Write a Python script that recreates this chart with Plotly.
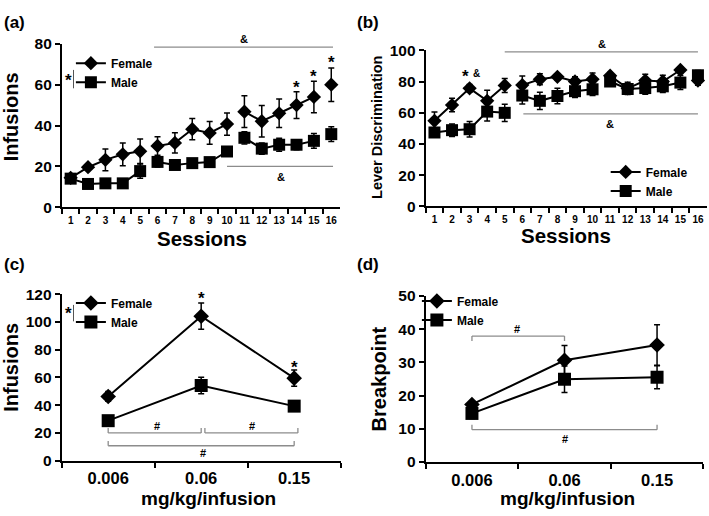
import plotly.graph_objects as go

# ---- data ----
sessions = [str(i) for i in range(1, 17)]
segments = [(0, 5), (5, 10), (10, 15), (15, 16)]   # lines break between phases

a_female = [14.4, 19.6, 23.2, 25.9, 27.4, 30.0, 31.5, 38.2, 36.4, 40.7, 46.8, 42.1, 46.0, 50.0, 54.0, 60.0]
a_female_err = [1.2, 1.5, 5.3, 5.6, 6.0, 4.5, 5.0, 5.2, 5.6, 5.5, 7.8, 7.7, 7.0, 6.6, 7.7, 8.2]
a_male = [14.0, 11.4, 11.7, 11.7, 17.7, 22.2, 20.7, 21.6, 22.1, 27.3, 34.0, 28.7, 30.6, 30.6, 32.5, 35.8]
a_male_err = [1.5, 1.2, 1.5, 1.2, 3.5, 2.5, 2.0, 1.5, 1.5, 1.5, 3.0, 2.8, 3.2, 2.5, 3.6, 3.6]

b_female = [54.8, 64.9, 75.6, 67.6, 77.5, 77.7, 81.4, 83.0, 80.0, 81.4, 83.7, 75.6, 80.6, 80.0, 87.4, 80.6]
b_female_err = [5.6, 4.3, 2.5, 6.8, 4.5, 5.8, 3.5, 2.0, 3.0, 4.0, 2.0, 4.0, 4.0, 4.0, 2.0, 3.0]
b_male = [47.3, 48.8, 49.4, 60.7, 59.9, 71.0, 67.6, 70.7, 73.8, 75.0, 80.0, 75.2, 75.8, 76.9, 79.3, 84.0]
b_male_err = [3.0, 4.0, 5.0, 6.0, 5.5, 5.5, 5.5, 5.0, 4.0, 4.0, 3.0, 3.0, 4.0, 4.0, 4.5, 3.0]

doses = ["0.006", "0.06", "0.15"]
c_female = [46.3, 104.2, 59.5]
c_female_err = [3.5, 9.5, 5.8]
c_male = [28.8, 54.2, 39.3]
c_male_err = [1.5, 6.0, 3.0]

d_female = [17.3, 30.6, 35.2]
d_female_err = [1.0, 4.5, 6.1]
d_male = [14.6, 24.9, 25.5]
d_male_err = [1.5, 4.0, 3.5]

FONT = "Liberation Sans, Arial, sans-serif"
GRAY = "#8c8c8c"

fig = go.Figure()


def add_series(xs, ys, errs, name, symbol, size, ax, leg, segs):
    for k, (s, e) in enumerate(segs):
        fig.add_trace(go.Scatter(
            x=xs[s:e], y=ys[s:e], mode="lines+markers", name=name,
            line=dict(color="black", width=2),
            marker=dict(symbol=symbol, size=size, color="black"),
            error_y=dict(type="data", array=errs[s:e], color="black", thickness=1.5, width=3),
            xaxis="x" + ax, yaxis="y" + ax, legend=leg, legendgroup=name + leg,
            showlegend=(k == 0), cliponaxis=False))


add_series(sessions, a_female, a_female_err, "Female", "diamond", 11, "", "legend", segments)
add_series(sessions, a_male, a_male_err, "Male", "square", 12, "", "legend", segments)
add_series(sessions, b_female, b_female_err, "Female", "diamond", 11, "2", "legend2", segments)
add_series(sessions, b_male, b_male_err, "Male", "square", 12, "2", "legend2", segments)
add_series(doses, c_female, c_female_err, "Female", "diamond", 12, "3", "legend3", [(0, 3)])
add_series(doses, c_male, c_male_err, "Male", "square", 13, "3", "legend3", [(0, 3)])
add_series(doses, d_female, d_female_err, "Female", "diamond", 12, "4", "legend4", [(0, 3)])
add_series(doses, d_male, d_male_err, "Male", "square", 13, "4", "legend4", [(0, 3)])

xdom = {"": [0.0874, 0.4795], "2": [0.6004, 0.9968], "3": [0.087, 0.4805], "4": [0.6004, 0.992]}
ydom = {"": [0.6027, 0.9302], "2": [0.6047, 0.9172], "3": [0.095, 0.4283], "4": [0.0924, 0.425]}
yrng = {"": [0, 80, 20], "2": [0, 100, 20], "3": [0, 120, 20], "4": [0, 50, 10]}

layout = dict(width=709, height=516, margin=dict(l=0, r=0, t=0, b=0),
              paper_bgcolor="white", plot_bgcolor="white",
              font=dict(family=FONT, color="black", weight="bold"))
for ax in ["", "2", "3", "4"]:
    small = ax in ("", "2")
    ncat = 16 if small else 3
    layout["xaxis" + ax] = dict(
        domain=xdom[ax], anchor="y" + ax, type="category", tickson="boundaries",
        range=[-0.5, ncat - 0.5], tickangle=0,
        showline=True, linecolor="black", linewidth=2, ticks="outside", ticklen=5,
        tickwidth=2, tickcolor="black", showgrid=False, zeroline=False,
        tickfont=dict(size=10 if small else 16.5, family=FONT, weight="bold"),
        ticklabelstandoff=3 if small else 2)
    lo, hi, step = yrng[ax]
    layout["yaxis" + ax] = dict(
        domain=ydom[ax], anchor="x" + ax, range=[lo, hi], tickvals=list(range(lo, hi + 1, step)),
        showline=True, linecolor="black", linewidth=2, ticks="outside", ticklen=5,
        tickwidth=2, tickcolor="black", showgrid=False, zeroline=False,
        tickfont=dict(size=15.5, family=FONT, weight="bold"))

leg_pos = {"legend": (0.100, 0.9205), "legend2": (0.8543, 0.7025),
           "legend3": (0.100, 0.440), "legend4": (0.588, 0.4438)}
for k, (lx, ly) in leg_pos.items():
    layout[k] = dict(x=lx, y=ly, xanchor="left", yanchor="top", bgcolor="rgba(0,0,0,0)",
                     font=dict(size=12, family=FONT, weight="bold"), tracegroupgap=0)

fig.update_layout(**layout)

ann = []
shapes = []


def text(x, y, t, ax="", size=11, color="black", anchor="middle"):
    ann.append(dict(x=x, y=y, xref="x" + ax, yref="y" + ax, text=t, showarrow=False,
                    yanchor=anchor,
                    font=dict(size=size, color=color, family=FONT, weight="bold")))


def hline(x0, x1, y, ax=""):
    shapes.append(dict(type="line", x0=x0, x1=x1, y0=y, y1=y, xref="x" + ax, yref="y" + ax,
                       line=dict(color=GRAY, width=1.3)))


def bracket(x0, x1, y, h, ax):
    hline(x0, x1, y, ax)
    for xx in (x0, x1):
        shapes.append(dict(type="line", x0=xx, x1=xx, y0=y, y1=y + h, xref="x" + ax, yref="y" + ax,
                           line=dict(color=GRAY, width=1.3)))


# panel a
hline(4.8, 15.1, 78.4)
text(10.0, 78.4, "&", anchor="bottom")
hline(9.0, 15.1, 20.0)
text(12.1, 15.0, "&")
for xi, yv in [(13, 58.5), (14, 64.0), (15, 71.0)]:
    text(xi, yv, "*", size=17)

# panel b
hline(4.0, 15.0, 99.0, "2")
text(9.55, 99.0, "&", "2", anchor="bottom")
hline(5.06, 15.0, 59.3, "2")
text(10.0, 53.0, "&", "2")
text(1.78, 83.5, "*", "2", size=17)
text(2.4, 85.0, "&", "2", size=10)

# panel c
bracket(0.0, 1.0, 20.0, 3.5, "3")
bracket(1.04, 2.04, 20.0, 3.5, "3")
bracket(0.0, 2.0, 10.7, 3.5, "3")
text(0.52, 25.0, "#", "3")
text(1.55, 25.0, "#", "3")
text(1.02, 5.4, "#", "3")
text(1, 117.0, "*", "3", size=17)
text(2, 67.5, "*", "3", size=17)

# panel d
bracket(0.0, 1.0, 37.9, -1.5, "4")
bracket(0.0, 2.0, 9.7, 1.5, "4")
text(0.49, 40.0, "#", "4")
text(1.0, 7.0, "#", "4")


def ptext(x, y, t, size, angle=0):
    ann.append(dict(x=x / 709, y=1 - y / 516, xref="paper", yref="paper", text=t, showarrow=False,
                    textangle=angle, xanchor="center", yanchor="middle",
                    font=dict(size=size, family=FONT, weight="bold", color="black")))


# panel labels and axis titles
ptext(14, 14, "(a)", 17)
ptext(368, 14, "(b)", 17)
ptext(14, 264, "(c)", 17)
ptext(368, 264, "(d)", 17)
ptext(11, 112, "Infusions", 20, -90)
ptext(377, 122, "Lever Discrimination", 14.5, -90)
ptext(11, 371, "Infusions", 20, -90)
ptext(379, 382, "Breakpoint", 20, -90)
ptext(202, 237, "Sessions", 20.5)
ptext(566, 234, "Sessions", 20.5)
ptext(208, 506, "mg/kg/infusion", 19)
ptext(567, 506, "mg/kg/infusion", 19)

# significance marks next to the legends
ptext(68, 74, "*", 17)
ptext(68, 315, "*", 17)
for y0, y1 in [(63, 82), (306, 323)]:
    shapes.append(dict(type="line", xref="paper", yref="paper", x0=73.5 / 709, x1=73.5 / 709,
                       y0=1 - y0 / 516, y1=1 - y1 / 516, line=dict(color="#555", width=1)))

fig.update_layout(annotations=ann, shapes=shapes)
fig.write_html("out.html", config={"displayModeBar": False},
               post_script="document.body.style.margin='0';")
